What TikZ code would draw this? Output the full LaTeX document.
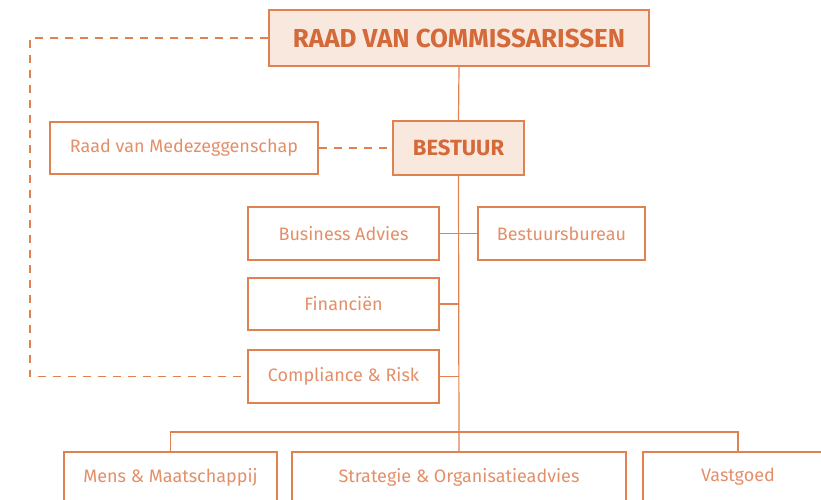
\documentclass[tikz,border=0pt]{standalone}
\usepackage{fontspec}
\setmainfont{Fira Sans}
\definecolor{lijn}{HTML}{E08150}
\definecolor{vlak}{HTML}{F9E8DE}
\definecolor{kop}{HTML}{D4693A}
\definecolor{tekst}{HTML}{E3906A}
\begin{document}
\begin{tikzpicture}[x=1pt,y=-1pt,
  box/.style={draw=lijn,line width=1.2pt,fill=white,text=tekst,
    font=\fontsize{18}{21}\selectfont,inner sep=0pt,anchor=center},
  hoofd/.style={box,fill=vlak,text=kop},
  link/.style={draw=lijn,line width=1.2pt},
  stip/.style={link,dashed,dash pattern=on 8pt off 7pt}]
\useasboundingbox (0,0) rectangle (821,499);

% bestuurslaag
\node[hoofd,font=\fontsize{26}{30}\selectfont\bfseries,minimum width=380pt,minimum height=56pt] (rvc) at (459,38) {RAAD VAN COMMISSARISSEN};
\node[hoofd,font=\fontsize{22}{26}\selectfont\bfseries,minimum width=131pt,minimum height=54pt] (bestuur) at (458.5,148) {BESTUUR};
\node[box,minimum width=268pt,minimum height=52pt] (rvm) at (184,148) {Raad van Medezeggenschap};

% staf
\node[box,minimum width=191pt,minimum height=53pt] (ba) at (343.5,233.5) {Business Advies};
\node[box,minimum width=167pt,minimum height=53pt] (bb) at (561.5,233.5) {Bestuursbureau};
\node[box,minimum width=191pt,minimum height=52pt] (fin) at (343.5,304) {Financiën};
\node[box,minimum width=191pt,minimum height=53pt] (cr) at (343.5,376.5) {Compliance \& Risk};

% bedrijfsonderdelen
\node[box,minimum width=213pt,minimum height=50pt] (mm) at (170.5,477) {Mens \& Maatschappij};
\node[box,minimum width=334pt,minimum height=50pt] (so) at (459,477) {Strategie \& Organisatieadvies};
\node[box,minimum width=190pt,minimum height=50pt] (vg) at (738,477) {Vastgoed};

% lijnen
\coordinate (bus) at (459,432);
\draw[link] (rvc.south) -- (bestuur.north);
\draw[link] (bestuur.south) -- (so.north);
\draw[link] (ba.east) -- (bb.west);
\draw[link] (fin.east) -- (fin.east -| bus);
\draw[link] (cr.east) -- (cr.east -| bus);
\draw[link] (mm.north) |- (bus) -| (vg.north);
\draw[stip] (rvm.east) -- (bestuur.west);
\draw[stip] (rvc.west) -- (30,38) |- (cr.west);
\end{tikzpicture}
\end{document}
